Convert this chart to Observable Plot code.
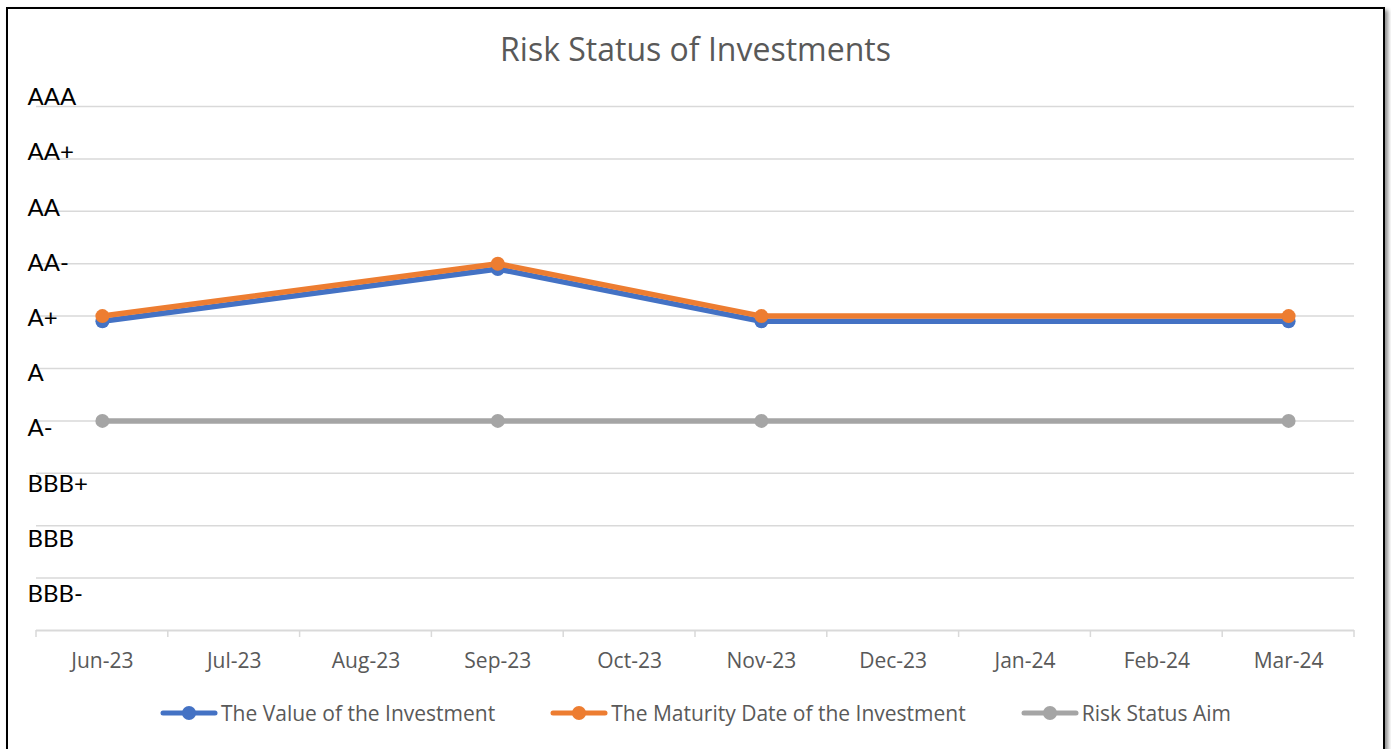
<!DOCTYPE html>
<html>
<head>
<meta charset="utf-8">
<script src="https://cdn.jsdelivr.net/npm/d3@7"></script>
<script src="https://cdn.jsdelivr.net/npm/@observablehq/plot@0.6"></script>
<style>
  html, body { margin: 0; padding: 0; background: #fff; overflow: hidden; }
  #wrap { position: relative; width: 1391px; height: 749px; overflow: hidden; }
  #frame { position: absolute; left: 6px; top: 7px; width: 1375px; height: 780px; border: 2px solid #000; box-shadow: 3px 3px 4px rgba(0,0,0,0.45); box-sizing: content-box; }
  #title { position: absolute; top: 27px; left: 0; width: 1391px; text-align: center; font-family: "Open Sans", sans-serif; font-size: 32px; color: #595959; }
  #chart { position: absolute; left: 0; top: 0; }
  #legend { position: absolute; top: 699px; left: 0; width: 1391px; display: flex; justify-content: center; gap: 55px; font-family: "Open Sans", sans-serif; font-size: 21px; color: #595959; }
  .item { display: flex; align-items: center; }
  .item svg { margin-right: 3px; }
</style>
</head>
<body>
<div id="wrap">
  <div id="frame"></div>
  <div id="title">Risk Status of Investments</div>
  <div id="chart"></div>
  <div id="legend"></div>
</div>
<script>
// Data
const months = ["Jun-23","Jul-23","Aug-23","Sep-23","Oct-23","Nov-23","Dec-23","Jan-24","Feb-24","Mar-24"];
const ratings = ["AAA","AA+","AA","AA-","A+","A","A-","BBB+","BBB","BBB-"];
const ratingValues = [10, 9, 8, 7, 6, 5, 4, 3, 2, 1];
const pointMonths = ["Jun-23","Sep-23","Nov-23","Mar-24"];
const valueOfInvestment = [5.9, 6.9, 5.9, 5.9];
const maturityDate = [6, 7, 6, 6];
const riskStatusAim = [4, 4, 4, 4];
const seriesNames = ["The Value of the Investment","The Maturity Date of the Investment","Risk Status Aim"];
const seriesColors = ["#4472C4","#ED7D31","#A5A5A5"];

const mk = (vals) => pointMonths.map((m, i) => ({month: m, value: vals[i]}));
const seriesData = [mk(valueOfInvestment), mk(maturityDate), mk(riskStatusAim)];

const W = 1391, H = 690, mL = 36, mR = 37, mT = 106, mB = 60;

// boundary tick marks between month categories (drawn through the x scale)
function boundaryTicks(index, scales, values, dims) {
  const x = scales.x;
  const step = (dims.width - dims.marginLeft - dims.marginRight) / months.length;
  const yb = dims.height - dims.marginBottom;
  const g = d3.create("svg:g");
  const xs = months.map(m => x(m) - step / 2).concat([x(months[months.length - 1]) + step / 2]);
  g.selectAll("line").data(xs).join("line")
    .attr("x1", d => d).attr("x2", d => d)
    .attr("y1", yb).attr("y2", yb + 7)
    .attr("stroke", "#d9d9d9").attr("stroke-width", 1.5);
  return g.node();
}

const labelMarks = ratings.map((r, i) => Plot.text([r], {
  y: [ratingValues[i]], text: d => d, frameAnchor: "left", textAnchor: "start",
  dx: -9, dy: -9 + 2.8 * i, fontSize: 24, fill: "#000", fontFamily: "Lato, sans-serif"
}));

const lineMarks = [2, 0, 1].flatMap(k => [
  Plot.line(seriesData[k], {x: "month", y: "value", stroke: seriesColors[k], strokeWidth: 5.5}),
  Plot.dot(seriesData[k], {x: "month", y: "value", r: 7, fill: seriesColors[k], stroke: "none"})
]);

const plot = Plot.plot({
  width: W, height: H,
  marginLeft: mL, marginRight: mR, marginTop: mT, marginBottom: mB,
  style: {fontFamily: "Open Sans, sans-serif", background: "transparent", overflow: "visible"},
  x: {type: "point", domain: months, padding: 0.5, round: false, label: null},
  y: {domain: [0, 10], label: null, axis: null},
  marks: [
    Plot.ruleY(ratingValues, {stroke: "#d9d9d9", strokeWidth: 1.5}),
    Plot.ruleY([0], {stroke: "#d9d9d9", strokeWidth: 2}),
    boundaryTicks,
    Plot.axisX({tickSize: 0, tickPadding: 23, fontSize: 21, fill: "#595959", label: null}),
    ...labelMarks,
    ...lineMarks
  ]
});
document.getElementById("chart").appendChild(plot);

const legend = d3.select("#legend");
seriesNames.forEach((name, i) => {
  const it = legend.append("div").attr("class", "item");
  const s = it.append("svg").attr("width", 58).attr("height", 16);
  s.append("line").attr("x1", 3).attr("x2", 55).attr("y1", 8).attr("y2", 8)
    .attr("stroke", seriesColors[i]).attr("stroke-width", 5).attr("stroke-linecap", "round");
  s.append("circle").attr("cx", 29).attr("cy", 8).attr("r", 7).attr("fill", seriesColors[i]);
  it.append("span").text(name);
});
</script>
</body>
</html>
